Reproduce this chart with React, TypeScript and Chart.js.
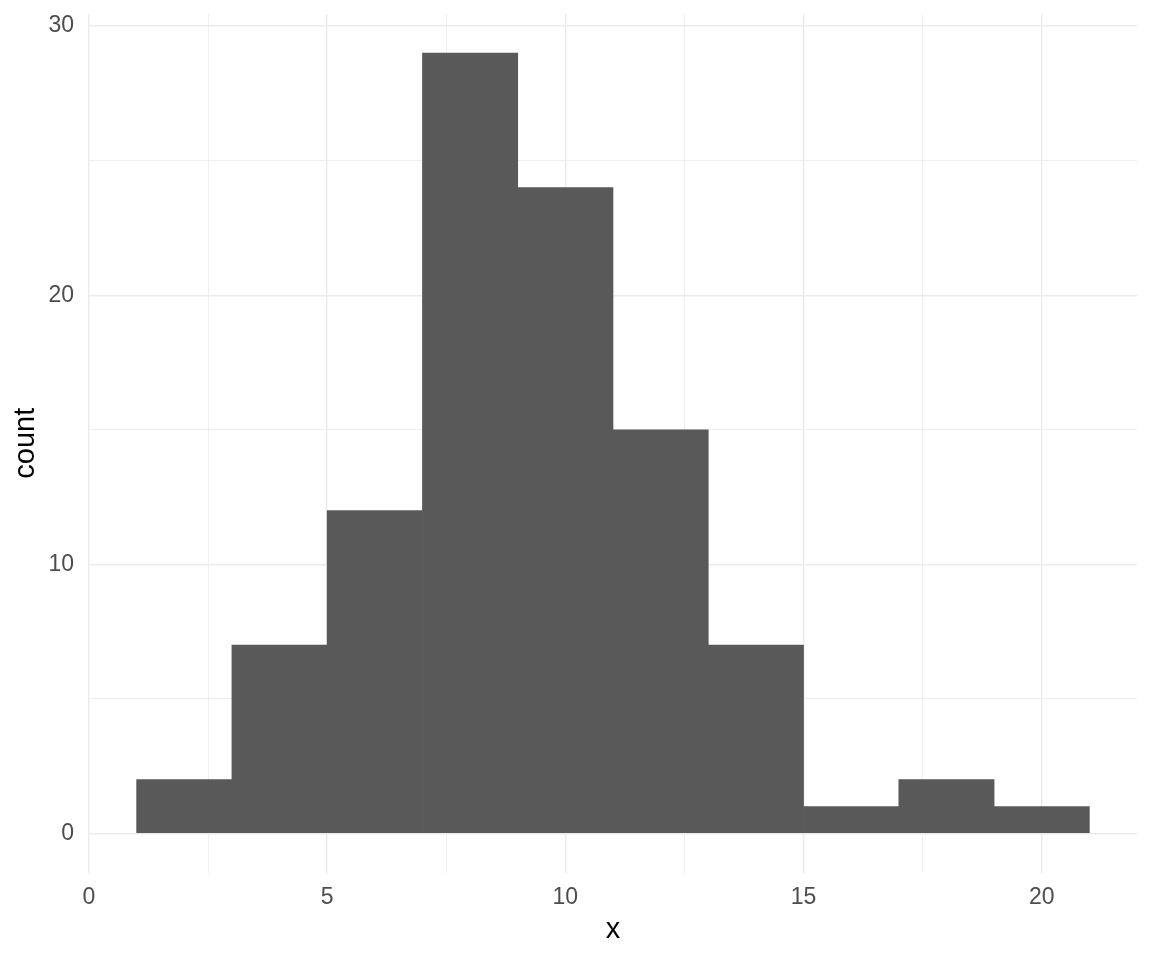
import React, { useEffect, useRef } from "react";
import { Chart, registerables } from "chart.js";

Chart.register(...registerables);

const binCenters = [2, 4, 6, 8, 10, 12, 14, 16, 18, 20];
const counts = [2, 7, 12, 29, 24, 15, 7, 1, 2, 1];
const xTicks = [0, 2.5, 5, 7.5, 10, 12.5, 15, 17.5, 20];
const xLabels = [0, 5, 10, 15, 20];
const yTicks = [0, 5, 10, 15, 20, 25, 30];
const yLabels = [0, 10, 20, 30];

const FONT = "'Liberation Sans', Arial, sans-serif";

export default function App() {
  const ref = useRef<HTMLCanvasElement | null>(null);
  useEffect(() => {
    if (!ref.current) return;
    const chart = new Chart(ref.current, {
      type: "bar",
      data: {
        datasets: [
          {
            data: binCenters.map((c, i) => ({ x: c, y: counts[i] })),
            backgroundColor: "#595959",
            borderWidth: 0,
            barPercentage: 1,
            categoryPercentage: 1,
          },
        ],
      },
      options: {
        animation: false,
        responsive: true,
        maintainAspectRatio: false,
        layout: { padding: { top: 14, right: 15, left: 0, bottom: 0 } },
        plugins: { legend: { display: false }, tooltip: { enabled: false } },
        scales: {
          x: {
            type: "linear",
            min: 0,
            max: 22,
            offset: false,
            grid: {
              offset: false,
              drawTicks: false,
              color: "#EBEBEB",
              lineWidth: (ctx: any) => (ctx.tick && xLabels.includes(ctx.tick.value) ? 1.4 : 0.8),
            },
            border: { display: false },
            afterBuildTicks: (scale: any) => {
              scale.ticks = xTicks.map((v) => ({ value: v }));
            },
            afterFit: (scale: any) => {
              scale.height = 87.5;
              scale.paddingLeft = 0;
              scale.paddingRight = 0;
            },
            ticks: {
              autoSkip: false,
              maxRotation: 0,
              padding: 11,
              color: "#4D4D4D",
              font: { family: FONT, size: 23 },
              callback: (v: any) => (xLabels.includes(Number(v)) ? String(v) : ""),
            },
            title: {
              display: true,
              text: "x",
              color: "#000000",
              font: { family: FONT, size: 29 },
              padding: { top: 0, bottom: 13 },
            },
          },
          y: {
            type: "linear",
            min: -1.45,
            max: 30.45,
            grid: {
              drawTicks: false,
              color: "#EBEBEB",
              lineWidth: (ctx: any) => (ctx.tick && yLabels.includes(ctx.tick.value) ? 1.4 : 0.8),
            },
            border: { display: false },
            afterBuildTicks: (scale: any) => {
              scale.ticks = yTicks.map((v) => ({ value: v }));
            },
            afterFit: (scale: any) => {
              scale.width = 89;
              scale.paddingTop = 0;
              scale.paddingBottom = 0;
            },
            ticks: {
              autoSkip: false,
              padding: 15,
              color: "#4D4D4D",
              font: { family: FONT, size: 23 },
              callback: (v: any) => (yLabels.includes(Number(v)) ? String(v) : ""),
            },
            title: {
              display: true,
              text: "count",
              color: "#000000",
              font: { family: FONT, size: 29 },
              padding: { top: 9, bottom: 0 },
            },
          },
        },
      },
    } as any);
    return () => chart.destroy();
  }, []);
  return (
    <div style={{ position: "absolute", left: 0, top: 0, width: 1152, height: 960, background: "#ffffff" }}>
      <canvas ref={ref} />
    </div>
  );
}
